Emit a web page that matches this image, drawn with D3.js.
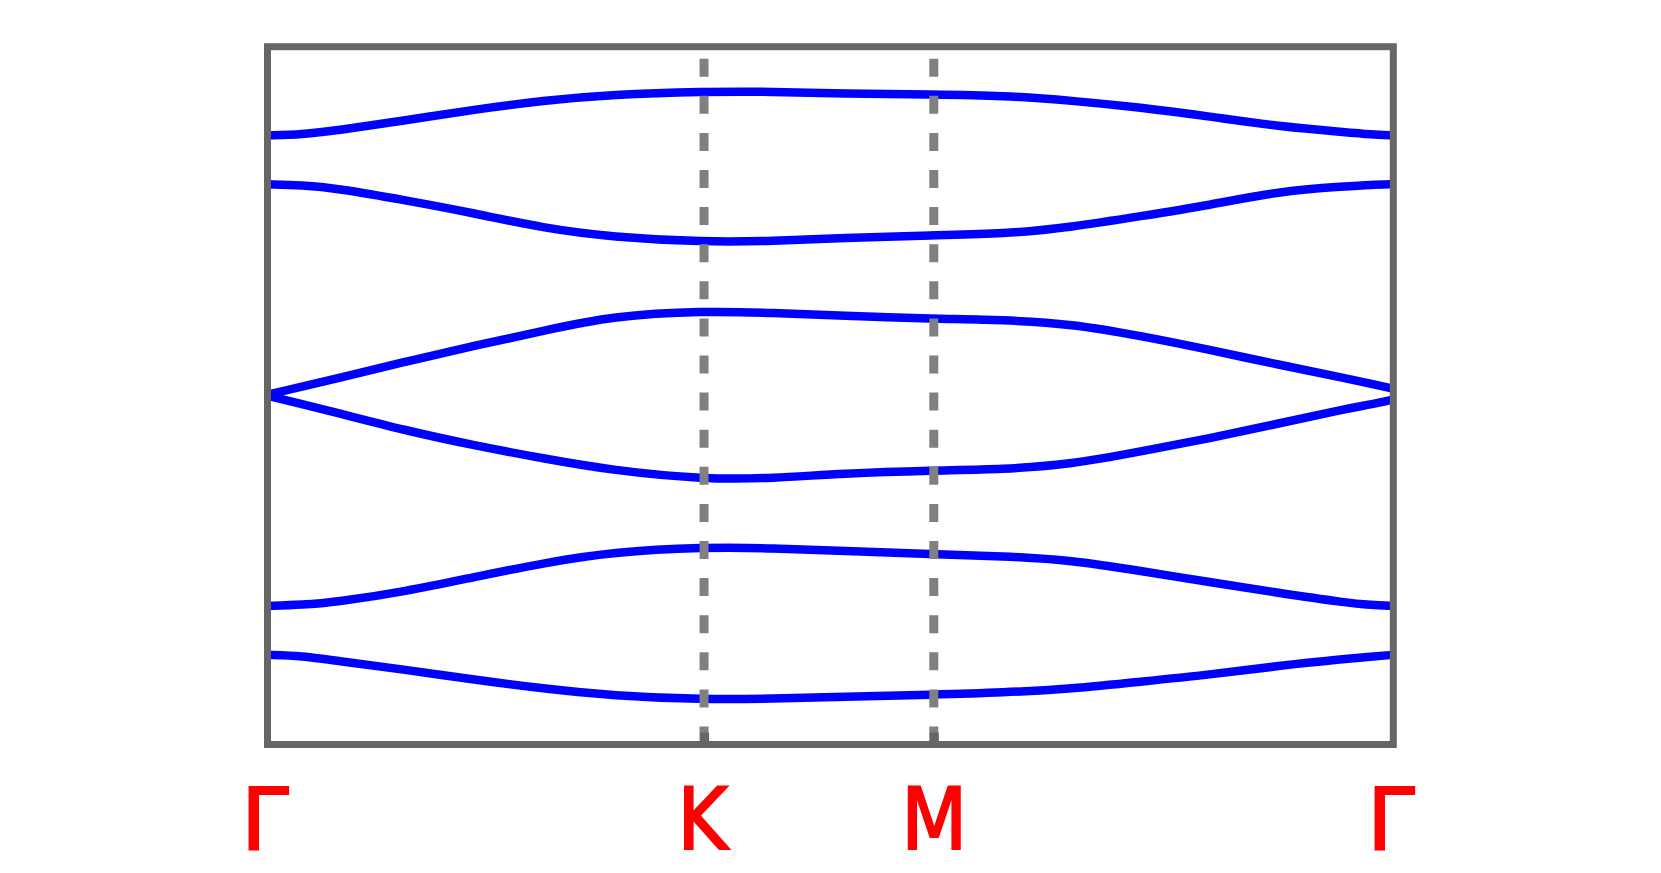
<!DOCTYPE html>
<html>
<head>
<meta charset="utf-8">
<script src="https://cdn.jsdelivr.net/npm/d3@7"></script>
<style>
  html, body { margin: 0; padding: 0; background: #fff; }
</style>
</head>
<body>
<script>

// band structure along the path G - K - M - G
var kPath = [0, 0.15, 0.3, 0.6, 0.9, 1.2, 1.5, 1.9, 2.2, 2.5, 2.9, 3.2, 3.5, 3.8, 4.1, 4.4, 4.7, 4.8, 4.9];

var band1 = [2.61, 2.62, 2.66, 2.76, 2.87, 2.96, 3.02, 3.05, 3.05, 3.03, 3.02, 3.01, 2.96, 2.89, 2.80, 2.70, 2.64, 2.62, 2.61];
var band2 = [2.12, 2.11, 2.08, 1.96, 1.83, 1.68, 1.59, 1.54, 1.55, 1.58, 1.61, 1.62, 1.69, 1.80, 1.91, 2.05, 2.10, 2.115, 2.12];
var band3 = [0.01, 0.09, 0.17, 0.34, 0.50, 0.65, 0.80, 0.85, 0.83, 0.80, 0.77, 0.76, 0.72, 0.60, 0.46, 0.31, 0.17, 0.12, 0.07];
var band4 = [0.00, -0.085, -0.17, -0.35, -0.50, -0.63, -0.75, -0.84, -0.83, -0.78, -0.75, -0.74, -0.69, -0.56, -0.43, -0.28, -0.13, -0.09, -0.04];
var band5 = [-2.11, -2.10, -2.07, -1.965, -1.82, -1.68, -1.57, -1.52, -1.53, -1.56, -1.59, -1.61, -1.65, -1.76, -1.87, -1.98, -2.08, -2.10, -2.11];
var band6 = [-2.60, -2.61, -2.66, -2.75, -2.85, -2.94, -3.01, -3.05, -3.04, -3.02, -3.00, -2.98, -2.94, -2.87, -2.80, -2.71, -2.64, -2.62, -2.60];

var bands = [band1, band2, band3, band4, band5, band6];

// high symmetry points
var symPos = [0, 1.9, 2.9, 4.9];
var symLabels = ["Γ", "K", "M", "Γ"];

var eMin = -3.5, eMax = 3.5;

var width = 1661,
    height = 873;

// plot box (note: "top" is taken by window.top, so use other names)
var boxLeft = 267.5, boxRight = 1393.3, boxTop = 46.7, boxBottom = 744.5;

var svg = d3.select("body").append("svg")
    .attr("width", width)
    .attr("height", height)
    .style("display", "block");

svg.append("rect")
    .attr("width", width)
    .attr("height", height)
    .attr("fill", "white");

var x = d3.scaleLinear().domain([0, 4.9]).range([boxLeft, boxRight]);
var y = d3.scaleLinear().domain([eMin, eMax]).range([boxBottom, boxTop]);

// basis curve to smooth out the small reading errors
var line = d3.line()
    .x(function (d, i) { return x(kPath[i]); })
    .y(function (d) { return y(d); })
    .curve(d3.curveBasis);

// the bands
svg.append("g")
    .selectAll("path")
    .data(bands)
    .enter().append("path")
    .attr("d", line)
    .attr("fill", "none")
    .attr("stroke", "#0000ff")
    .attr("stroke-width", 8.5);

// dashed lines at K and M (drawn from the bottom up)
svg.append("g")
    .selectAll("line")
    .data(symPos.slice(1, 3))
    .enter().append("line")
    .attr("x1", function (d) { return x(d); })
    .attr("x2", function (d) { return x(d); })
    .attr("y1", y(eMin))
    .attr("y2", y(eMax))
    .attr("stroke", "#808080")
    .attr("stroke-width", 9)
    .attr("stroke-dasharray", "18,19.1");

// axis with inward ticks and the point labels
var xAxis = d3.axisBottom(x)
    .tickValues(symPos)
    .tickFormat(function (d, i) { return symLabels[i]; })
    .tickSizeInner(-12)
    .tickSizeOuter(0);

var gx = svg.append("g")
    .attr("transform", "translate(0," + boxBottom + ")")
    .call(xAxis);

gx.select(".domain").remove();
gx.selectAll(".tick line")
    .attr("stroke", "#666666")
    .attr("stroke-width", 9)
    // the ticks on the box edges are hidden by the frame anyway
    .attr("display", function (d, i) { return (i == 0 || i == symPos.length - 1) ? "none" : null; });

gx.selectAll(".tick text")
    .attr("y", 104)
    .attr("dy", 0)
    .attr("dx", function (d, i) { return symLabels[i] == "Γ" ? -3 : (symLabels[i] == "K" ? -2 : 0); })
    .attr("fill", "#ff0000")
    .attr("stroke", "#ff0000")
    .attr("stroke-width", 2)
    .style("font-size", "85px")
    // gamma is a math symbol, the letters are plain text
    .style("font-family", function (d, i) {
        return symLabels[i] == "Γ" ? "'DejaVu Sans', sans-serif" : "'DejaVu Sans Condensed', 'DejaVu Sans', sans-serif";
    })
    .style("font-stretch", function (d, i) { return symLabels[i] == "Γ" ? "normal" : "condensed"; });

// frame
svg.append("rect")
    .attr("x", boxLeft)
    .attr("y", boxTop)
    .attr("width", boxRight - boxLeft)
    .attr("height", boxBottom - boxTop)
    .attr("fill", "none")
    .attr("stroke", "#666666")
    .attr("stroke-width", 7);

</script>
</body>
</html>
